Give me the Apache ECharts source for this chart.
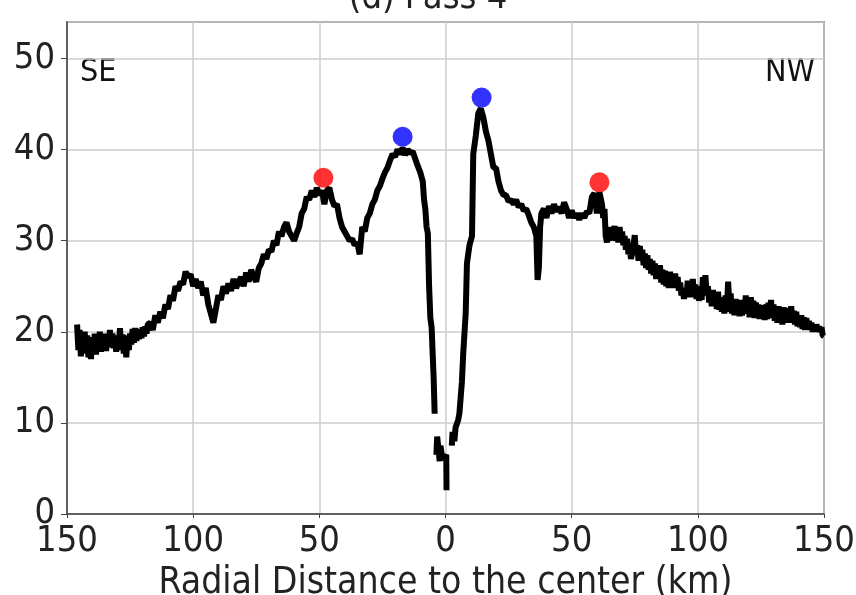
<!DOCTYPE html>
<html><head><meta charset="utf-8">
<script src="https://cdn.jsdelivr.net/npm/echarts@6/dist/echarts.min.js"></script>
<style>html,body{margin:0;padding:0;background:#fff}#c{width:856px;height:595px}</style>
</head><body><div id="c"></div>
<script>
// Radial distance (km, SE negative / NW positive)
const distances = [
-146,-145.5,-145,-144.5,-144,-143.5,-143,-142.5,-142,-141.5,-141,-140.5,-140,-139.5,-139,-138.5,-138,-137.5,-137,-136.5,-136,-135.5,-135,-134.5,-134,-133.5,-133,-132.5,-132,-131.5,
-131,-130.5,-130,-129.5,-129,-128.5,-128,-127.5,-127,-126.5,-126,-125.5,-125,-124.5,-124,-123.5,-123,-122.5,-122,-121.5,-121,-120.5,-120,-119.5,-119,-118.5,-118,
-117,-116,-115,-114,-113,-112,-111,-110,-109,-108,-107,-106,-105,-104,-103,-102,-101,-100,-99,-98,-97,-96,-95,-94,-93,-92,-91,-90,
-89,-88,-87,-86,-85,-84,-83,-82,-81,-80,-79,-78,-77,-76,-75,-74,-73,-72,-71,-70,-69,-68,-67,-66,-65,-64,-63,-62,-61,-60,
-59,-58,-57,-56,-55,-54,-53,-52,-51,-50,-49,-48,-47,-46,-45,-44,-43,-42,-41,-40,-39,-38,-37,-36,-35,-34,-33,-32,-31,-30,
-29,-28,-27,-26,-25,-24,-23,-22,-21,-20,-19,-18,-17,-16,-15,-14,-13,-12,-11,-10,-9,-8.5,-8,-7.5,-7,-6.5,-6,-5.5,-5,-4.7,-4.5,-4.3,
-4,-3.6,-3.3,-2.8,-2.3,-2,-1.5,-1,0.3,0.4,
1.5,2.5,2.8,3.5,4,5,5.5,6.5,7,8,8.5,9.5,10.5,11,12,13,14,15,16,17,18,19,20,21,22,23,24,25,26,27,28,29,30,
31,32,33,34,35,36,36.5,37,37.5,38,39,40,41,42,43,44,45,46,47,48,49,50,51,52,53,54,55,56,57,58,59,60,61,
62,62.5,63,63.5,64,64.5,65,65.5,66,66.5,67,67.5,68,68.5,69,69.5,70,70.5,71,71.5,72,72.5,73,73.5,74,74.5,75,75.5,76,76.5,
77,77.5,78,78.5,79,79.5,80,80.5,81,81.5,82,82.5,83,83.5,84,84.5,85,85.5,86,86.5,87,87.5,88,88.5,89,89.5,90,90.5,91,91.5,
92,92.5,93,93.5,94,94.5,95,95.5,96,96.5,97,97.5,98,98.5,99,99.5,100,100.5,101,101.5,102,102.5,103,103.5,104,104.5,105,105.5,106,106.5,
107,107.5,108,108.5,109,109.5,110,110.5,111,111.5,112,112.5,113,113.5,114,114.5,115,115.5,116,116.5,117,117.5,118,118.5,119,119.5,120,120.5,121,121.5,
122,122.5,123,123.5,124,124.5,125,125.5,126,126.5,127,127.5,128,128.5,129,129.5,130,130.5,131,131.5,132,132.5,133,133.5,134,134.5,135,135.5,136,136.5,
137,137.5,138,138.5,139,139.5,140,140.5,141,141.5,142,142.5,143,143.5,144,144.5,145,145.5,146,146.5,147,147.5,148,148.5,149,149.5,150
];
// Wind speed values (null = data gap)
const speeds = [
20.8,18,20.2,17.3,19.8,17.6,20,18,19.6,17.2,19.4,17,19.2,17.8,19.8,17.5,19.5,18,20,17.8,19.4,18.2,19.8,17.9,19.6,18.3,20.2,18.5,19.8,18.2,
19.5,17.8,19.6,18.5,20.4,18,19.7,17.6,19.5,17.2,19.6,18,19.8,18.6,20.3,18.8,20.4,19,20.2,19.2,20.3,19.3,20.5,19.5,20.6,19.8,20.8,
21,20.2,21.8,21,22.2,21.5,23,22.5,24,23.4,25,24.5,25.5,25.2,26.6,26,26.3,25,25.8,24.8,25.5,24,24.8,23,22,21,22.5,24,
23.5,25,24.2,25.3,24.5,25.8,24.8,25.5,26,25,26.5,25.5,26.8,26,25.5,27,27.5,28.5,28,29,28.8,30,29.5,31,30.5,31.5,32,31,30.5,30,
30.8,31.5,33,33.5,34.8,34.5,35.5,34.8,35.8,35,35.5,34,35.5,35.8,34.5,33.8,34,32.5,31.5,31,30.5,30,30.2,29.5,29.8,28.5,31.5,31,32.5,33,
34,34.5,35.5,36,36.8,37.5,38,38.8,39.5,39.2,40,39.5,40.2,39.4,40,39.6,39.8,39,38.2,37.5,36.5,34.5,33.5,31.5,30.8,25,21.5,20.5,17,15,13,11,
null,6.5,8.5,7.2,5.8,7.5,6.5,6,6.5,2.6,
null,7.5,9,8,9.5,10.3,11,14.5,17.5,22,27.5,29.5,30.5,39.5,41.5,44,44.5,43.5,42,41,39.5,38,38,36.5,35.5,35,35,34.3,34.5,34,34.5,33.7,34,
33.3,33.5,32.8,32,31.5,30.5,25.7,27,31.5,33,33.5,32.5,33.8,33,34,33.2,33.7,33,34.2,33.5,32.5,33.3,32.5,33,32.3,33,32.5,33.2,33,34.8,35.2,33,35.3,
34,32.5,33.5,30.5,29.8,31.2,30,31.5,30.2,31,31.6,30,31.2,29.8,31.5,30.2,31,29.5,30.5,29,30.2,28.5,29.6,28,28.2,29.5,30.6,28.4,29.5,27.8,
29.4,28,29,27.3,28.6,27,28.4,26.8,28,26.4,27.8,26.2,27.5,25.8,27.2,25.8,27.3,25.4,26.8,25.2,26.7,25,26.5,24.8,26.6,25,26.3,24.8,26.4,25,
26,24.5,25.4,24,24.8,23.6,24.8,23.8,25.6,24,25.3,23.8,25.8,24,25.2,23.6,25,23.4,24.5,23.5,26,24.2,26.2,24,25,23.2,24.5,22.8,24.6,22.8,
24.2,22.5,24.4,22.4,23.8,22.2,23.6,22,24,22.2,25.5,23,24.2,22,23.5,21.8,23.6,21.8,23.2,21.7,23.5,21.8,23.2,22,24,22,23.5,21.6,23.8,21.8,
23.4,21.5,23.2,21.6,23,21.4,22.9,21.5,22.8,21.3,23,21.4,23.2,21.5,23.5,21.6,23,21.2,22.6,21,22.8,21,22.5,20.8,22.7,21,22.5,21.2,22.6,21,
22.8,21,22.3,20.8,22.2,20.6,21.8,20.5,21.8,20.3,21.6,20.2,21.5,20.3,21.2,20.2,21,20,20.8,20,20.8,20.2,20.6,20,20.5,19.6,19.5
];
// Marked peaks
const redPeakX = [-48.4, 61];
const redPeakY = [36.9, 36.4];
const bluePeakX = [-17, 14.3];
const bluePeakY = [41.4, 45.7];

const lineData = distances.map((d,i)=>[d,speeds[i]]);
const redData = redPeakX.map((d,i)=>[d,redPeakY[i]]);
const blueData = bluePeakX.map((d,i)=>[d,bluePeakY[i]]);

const font = '"DejaVu Sans Condensed", "DejaVu Sans"';
const chart = echarts.init(document.getElementById('c'), null, {renderer:'canvas'});
chart.setOption({
  animation:false,
  backgroundColor:'#fff',
  title:{text:'(d) Pass 4', left:'center', top:-24, textStyle:{fontFamily:font,fontSize:36,fontWeight:'normal',color:'#222'}},
  grid:{left:67,right:32,top:22,bottom:81,containLabel:false,outerBoundsMode:'none',show:true,borderColor:'#444',borderWidth:1.5,backgroundColor:'transparent'},
  xAxis:{type:'value',min:-150,max:150,interval:50,
    name:'Radial Distance to the center (km)',nameLocation:'middle',nameGap:46,
    nameTextStyle:{fontFamily:font,fontSize:37,color:'#222'},
    axisLine:{show:true,onZero:false,lineStyle:{color:'#444',width:1.5}},
    axisTick:{show:true,length:4,lineStyle:{color:'#444'}},
    axisLabel:{fontFamily:font,fontSize:36,color:'#222',margin:10,formatter:v=>String(Math.abs(v))},
    splitLine:{show:true,lineStyle:{color:'#cccccc',width:1.5}}},
  yAxis:{type:'value',min:0,max:54,interval:10,
    axisLine:{show:true,onZero:false,lineStyle:{color:'#444',width:1.5}},
    axisTick:{show:true,length:6,lineStyle:{color:'#444'}},
    axisLabel:{fontFamily:font,fontSize:36,color:'#222',margin:12,padding:[7,0,0,0],showMaxLabel:false},
    splitLine:{show:true,lineStyle:{color:'#cccccc',width:1.5}}},
  graphic:[
    {type:'text',left:80,top:57,style:{text:'SE',font:'32px "DejaVu Sans Condensed", "DejaVu Sans"',fill:'#111'}},
    {type:'text',right:41,top:57,style:{text:'NW',font:'32px "DejaVu Sans Condensed", "DejaVu Sans"',fill:'#111'}}
  ],
  series:[
    {type:'line',data:lineData,showSymbol:false,connectNulls:false,lineStyle:{color:'#000',width:6},z:2},
    {type:'scatter',data:redData,symbolSize:20,itemStyle:{color:'#ff0000'},z:3},
    {type:'scatter',data:blueData,symbolSize:20,itemStyle:{color:'#0000ff'},z:3}
  ]
});
</script></body></html>
